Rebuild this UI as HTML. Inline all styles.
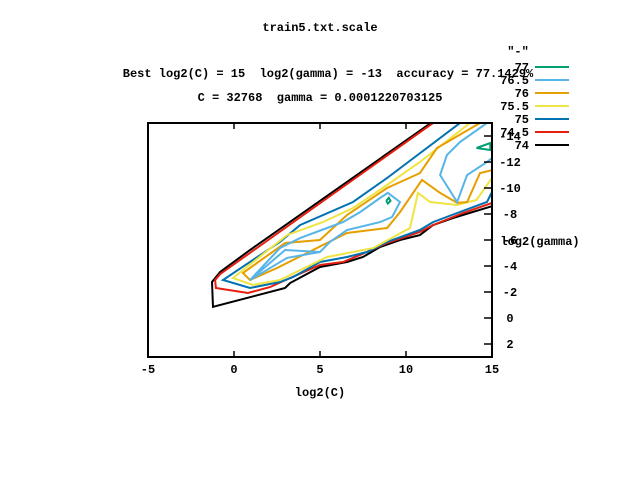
<!DOCTYPE html>
<html><head><meta charset="utf-8"><style>
body{margin:0;background:#fff;}
svg text{font-family:"Liberation Mono",monospace;font-size:12px;font-weight:bold;fill:#000;white-space:pre;}
</style></head><body>
<svg width="640" height="480" viewBox="0 0 640 480" id="chart">
<text x="320" y="31" text-anchor="middle">train5.txt.scale</text>
<text x="328" y="77" text-anchor="middle" xml:space="preserve">Best log2(C) = 15  log2(gamma) = -13  accuracy = 77.1429%</text>
<text x="320" y="101" text-anchor="middle" xml:space="preserve">C = 32768  gamma = 0.0001220703125</text>
<text x="320" y="396" text-anchor="middle">log2(C)</text>
<text x="540" y="245" text-anchor="middle">log2(gamma)</text>
<text x="518" y="55" text-anchor="middle">"-"</text>
<g id="plot"></g>
<g id="axes"></g>
<g id="legend"></g>
</svg>
<script>
const levels=["77","76.5","76","75.5","75","74.5","74"];
const colors=["#009e73","#56b4e9","#e69f00","#f0e442","#0072b2","#e51e10","#000000"];
const xTicks=[-5,0,5,10,15];
const yTicks=[2,0,-2,-4,-6,-8,-10,-12,-14];
const c77a=[[14.1,-13.08],[14.9,-13.46],[14.9,-12.92],[14.1,-13.08]];
const c77b=[[8.85,-9.0],[9.0,-9.25],[9.1,-9.0],[8.95,-8.8],[8.85,-9.0]];
const c765a=[[0.93,-2.92],[2.97,-5.23],[5.0,-5.08],[5.58,-5.85],[6.57,-6.77],[8.49,-7.38],[9.19,-7.77],[9.65,-8.92],[8.95,-9.62],[8.49,-9.23],[7.33,-8.15],[6.34,-7.38],[5.41,-6.92],[3.84,-6.15],[2.67,-5.38],[0.93,-2.92]];
const c765b=[[0.93,-2.92],[3.08,-4.62],[5.0,-5.08]];
const c765c=[[14.71,-15],[13.14,-13.54],[12.38,-12.54],[11.98,-11.0],[12.97,-8.92],[13.55,-11.0],[14.71,-12.0],[15,-12.31]];
const c76=[[14.3,-15],[11.8,-13.08],[10.81,-11.15],[8.9,-10.0],[6.57,-7.92],[5.0,-6.0],[2.97,-5.77],[0.52,-3.46],[0.93,-2.92],[2.5,-3.85],[6.57,-6.54],[8.9,-6.92],[9.65,-8.15],[10.93,-10.62],[11.98,-9.62],[12.97,-8.85],[13.55,-8.92],[14.3,-11.15],[15,-11.38]];
const c755=[[13.72,-15],[10.81,-12],[8.9,-10.23],[6.92,-8.46],[5.17,-7.38],[3.08,-6.38],[-0.06,-3.08],[1.1,-2.54],[2.67,-2.92],[5.41,-4.69],[8.08,-5.38],[10.23,-6.92],[10.7,-9.62],[11.4,-8.92],[12.97,-8.69],[14.1,-9.08],[15,-10.77]];
const c75=[[13.14,-15],[8.9,-10.77],[6.92,-8.92],[3.84,-7.15],[2.67,-5.85],[-0.64,-2.92],[0.93,-2.31],[2.67,-2.77],[3.43,-3.15],[5.0,-4.31],[6.57,-4.69],[7.73,-5.08],[8.9,-5.85],[10.81,-6.77],[11.57,-7.38],[12.97,-8.08],[14.71,-8.92],[15,-9.69]];
const c745=[[11.57,-15],[-0.81,-3.38],[-1.1,-2.92],[-1.05,-2.31],[0.81,-1.92],[2.09,-2.38],[3.26,-3.08],[5.0,-4.08],[6.34,-4.31],[7.33,-4.85],[8.9,-5.77],[10.81,-6.62],[11.57,-7.15],[13.31,-8.08],[15,-8.85]];
const c74=[[11.45,-15],[0.93,-5.23],[-0.81,-3.54],[-1.28,-2.77],[-1.22,-0.85],[2.97,-2.31],[3.26,-2.69],[5.0,-3.92],[6.57,-4.31],[7.5,-4.69],[8.49,-5.46],[9.65,-6.0],[10.81,-6.38],[11.57,-7.15],[12.73,-7.69],[15,-8.6]];
const series=[[c77a,c77b],[c765a,c765b,c765c],[c76],[c755],[c75],[c745],[c74]];
const X0=148,X1=492,Y0=123,Y1=357;
const xs=v=>X0+(v-(-5))/20*(X1-X0);
const ys=v=>Y0+(v-(-15))/18*(Y1-Y0);
const NS="http://www.w3.org/2000/svg";
function mk(t,a,p){const e=document.createElementNS(NS,t);for(const k in a)e.setAttribute(k,a[k]);p.appendChild(e);return e;}
const plot=document.getElementById('plot');
for(let i=series.length-1;i>=0;i--){series[i].forEach((pts,j)=>{
 const e=mk('polyline',{points:pts.map(p=>xs(p[0]).toFixed(1)+','+ys(p[1]).toFixed(1)).join(' '),fill:'none',stroke:colors[i],'stroke-width':2},plot);
 
 
});}
const ax=document.getElementById('axes');
const fr=mk('rect',{x:X0,y:Y0,width:X1-X0,height:Y1-Y0,fill:'none',stroke:'#000','stroke-width':2},ax);


xTicks.forEach(v=>{const x=xs(v);
 mk('line',{x1:x,y1:Y1,x2:x,y2:Y1-6,stroke:'#000','stroke-width':1.5},ax);
 mk('line',{x1:x,y1:Y0,x2:x,y2:Y0+6,stroke:'#000','stroke-width':1.5},ax);
 const t=mk('text',{x:x,y:373,'text-anchor':'middle'},ax);t.textContent=v;
 
 
});
yTicks.forEach(v=>{const y=ys(v);
 mk('line',{x1:X1,y1:y,x2:X1-8,y2:y,stroke:'#000','stroke-width':1.5},ax);
 const t=mk('text',{x:510,y:y+4,'text-anchor':'middle'},ax);t.textContent=v;
 
 
});
const lg=document.getElementById('legend');
levels.forEach((l,i)=>{const y=67+i*13;
 const t=mk('text',{x:529,y:y+4,'text-anchor':'end'},lg);t.textContent=l;
 
 
 const ln=mk('line',{x1:535,y1:y,x2:569,y2:y,stroke:colors[i],'stroke-width':2},lg);
 
 
});
</script>
</body></html>
